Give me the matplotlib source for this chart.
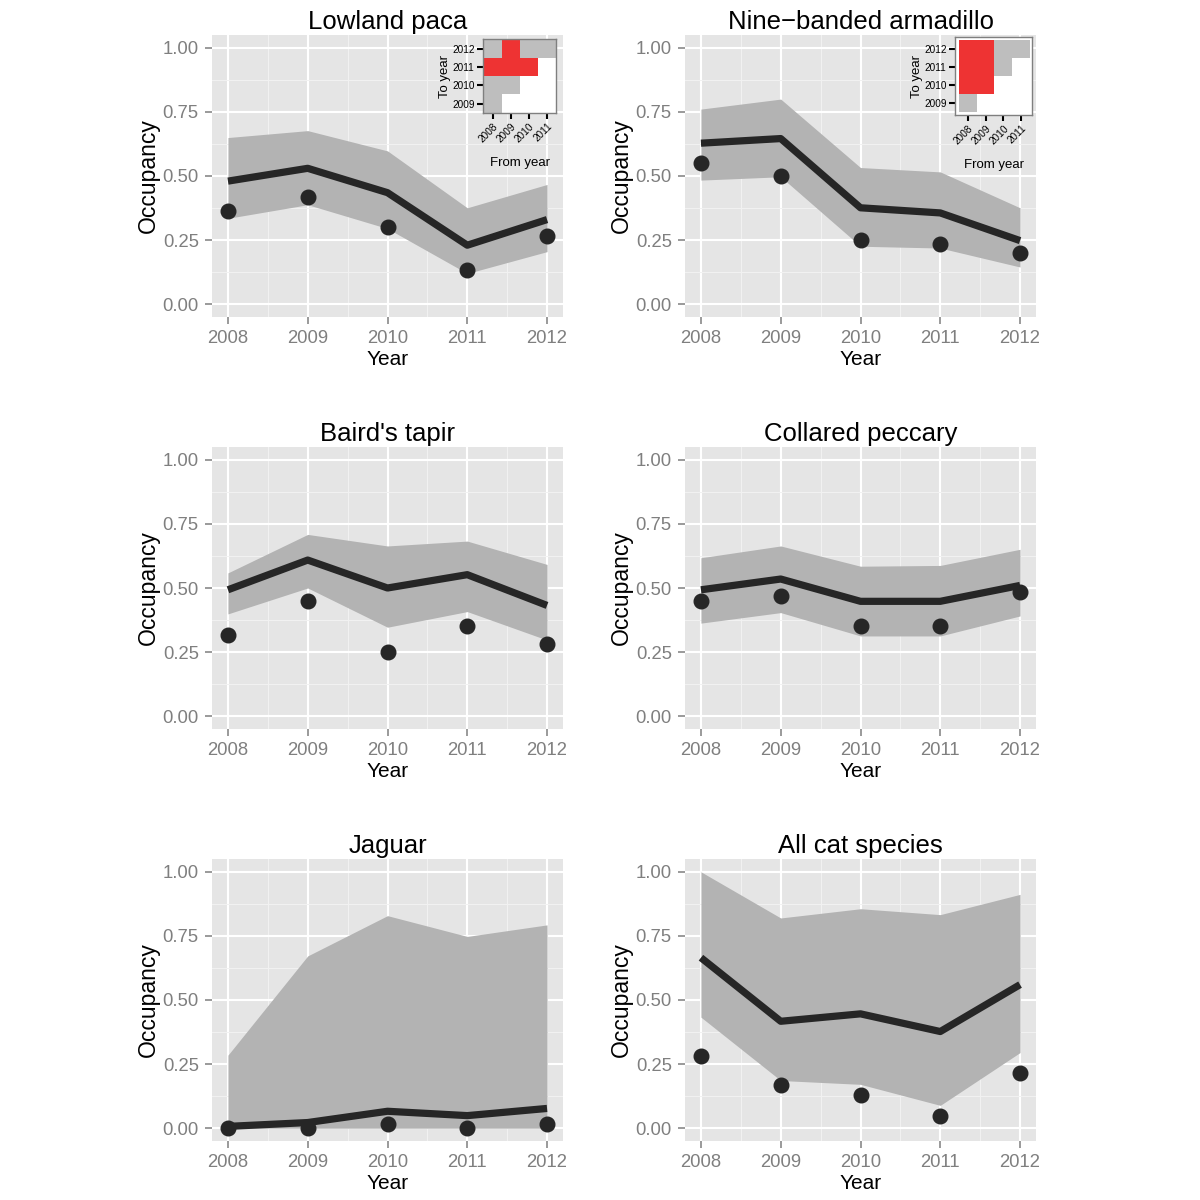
import numpy as np
import matplotlib.pyplot as plt
from matplotlib.colors import ListedColormap

plt.rcParams['font.family'] = ['Liberation Sans', 'DejaVu Sans']

years = [2008, 2009, 2010, 2011, 2012]

titles = ["Lowland paca", "Nine\u2212banded armadillo", "Baird's tapir",
          "Collared peccary", "Jaguar", "All cat species"]

# estimated occupancy (line), credible band and naive occupancy (points)
paca_est = [0.48, 0.53, 0.435, 0.23, 0.33]
paca_lo = [0.335, 0.388, 0.295, 0.12, 0.205]
paca_hi = [0.65, 0.677, 0.598, 0.376, 0.467]
paca_obs = [0.365, 0.417, 0.30, 0.135, 0.267]

arma_est = [0.628, 0.646, 0.376, 0.356, 0.248]
arma_lo = [0.484, 0.497, 0.226, 0.219, 0.145]
arma_hi = [0.761, 0.80, 0.533, 0.516, 0.376]
arma_obs = [0.55, 0.50, 0.25, 0.235, 0.20]

tapir_est = [0.493, 0.609, 0.50, 0.552, 0.432]
tapir_lo = [0.399, 0.50, 0.347, 0.408, 0.297]
tapir_hi = [0.559, 0.709, 0.664, 0.683, 0.592]
tapir_obs = [0.317, 0.45, 0.25, 0.35, 0.283]

pecc_est = [0.493, 0.535, 0.448, 0.448, 0.51]
pecc_lo = [0.363, 0.404, 0.313, 0.313, 0.391]
pecc_hi = [0.618, 0.664, 0.585, 0.588, 0.651]
pecc_obs = [0.448, 0.467, 0.35, 0.35, 0.483]

jag_est = [0.007, 0.022, 0.066, 0.049, 0.077]
jag_lo = [0.0, 0.0, 0.0, 0.0, 0.0]
jag_hi = [0.285, 0.672, 0.829, 0.748, 0.793]
jag_obs = [0.0, 0.0, 0.016, 0.0, 0.016]

cat_est = [0.665, 0.417, 0.446, 0.377, 0.56]
cat_lo = [0.433, 0.186, 0.171, 0.089, 0.295]
cat_hi = [1.0, 0.82, 0.856, 0.833, 0.912]
cat_obs = [0.28, 0.167, 0.131, 0.046, 0.214]

est = [paca_est, arma_est, tapir_est, pecc_est, jag_est, cat_est]
lo = [paca_lo, arma_lo, tapir_lo, pecc_lo, jag_lo, cat_lo]
hi = [paca_hi, arma_hi, tapir_hi, pecc_hi, jag_hi, cat_hi]
obs = [paca_obs, arma_obs, tapir_obs, pecc_obs, jag_obs, cat_obs]

# transition insets: 0 = none, 1 = grey, 2 = red ; rows = to year 2009..2012
from_years = [2008, 2009, 2010, 2011]
to_years = [2009, 2010, 2011, 2012]
paca_trans = [[1, 0, 0, 0],
              [1, 1, 0, 0],
              [2, 2, 2, 0],
              [1, 2, 1, 1]]
arma_trans = [[1, 0, 0, 0],
              [2, 2, 0, 0],
              [2, 2, 1, 0],
              [2, 2, 1, 1]]

W = 1200.0
fig = plt.figure(figsize=(12, 12), dpi=100)

col_left = [212, 685]
row_top = [35, 447, 859]
pw, ph = 351, 282

for i in range(6):
    r, c = divmod(i, 2)
    ax = fig.add_axes([col_left[c] / W, 1 - (row_top[r] + ph) / W, pw / W, ph / W])
    ax.set_facecolor('#E5E5E5')
    ax.fill_between(years, lo[i], hi[i], color='#B3B3B3', lw=0, zorder=2)
    ax.plot(years, est[i], color='#262626', lw=5.2, zorder=3, solid_capstyle='butt')
    ax.plot(years, obs[i], 'o', color='#262626', ms=10.5, zorder=4)
    ax.set_xlim(2007.8, 2012.2)
    ax.set_ylim(-0.05, 1.05)
    ax.set_xticks(years)
    ax.set_yticks([0, 0.25, 0.5, 0.75, 1.0])
    ax.set_yticklabels(['0.00', '0.25', '0.50', '0.75', '1.00'])
    ax.set_xticks([2008.5, 2009.5, 2010.5, 2011.5], minor=True)
    ax.set_yticks([0.125, 0.375, 0.625, 0.875], minor=True)
    ax.grid(which='major', color='white', lw=1.5, zorder=0)
    ax.grid(which='minor', color='#F2F2F2', lw=0.7, zorder=0)
    ax.set_axisbelow(True)
    for s in ax.spines.values():
        s.set_visible(False)
    ax.tick_params(which='major', length=5, width=1.1, color='#7F7F7F',
                   labelcolor='#7F7F7F', labelsize=13.3, pad=4.5)
    ax.tick_params(which='minor', length=0)
    ax.set_xlabel('Year', fontsize=15, labelpad=2)
    ax.set_ylabel('Occupancy', fontsize=16.5, labelpad=2)
    ax.set_title(titles[i], fontsize=18.5, pad=4)

cmap = ListedColormap(['white', '#BEBEBE', '#EE3333'])


def add_inset(box, trans, xl, yl):
    left, top, right, bottom = box
    ia = fig.add_axes([left / W, 1 - bottom / W, (right - left) / W, (bottom - top) / W])
    xe = np.arange(len(from_years) + 1) - 0.5
    ye = np.arange(len(to_years) + 1) - 0.5
    ia.pcolormesh(xe, ye, np.array(trans), cmap=cmap, vmin=0, vmax=2, zorder=1)
    ia.set_xlim(*xl)
    ia.set_ylim(*yl)
    ia.set_xticks(range(len(from_years)))
    ia.set_xticklabels([str(y) for y in from_years], rotation=45, ha='right',
                       rotation_mode='anchor', fontsize=7.2)
    ia.set_yticks(range(len(to_years)))
    ia.set_yticklabels([str(y) for y in to_years], fontsize=7.2)
    ia.tick_params(length=4, width=1.5, color='black', pad=2)
    for s in ia.spines.values():
        s.set_color('#7F7F7F')
        s.set_linewidth(1.0)
    ia.set_xlabel('From year', fontsize=9.5, labelpad=9)
    ia.set_ylabel('To year', fontsize=9.5, labelpad=1)


add_inset((483, 39, 556, 113), paca_trans, (-0.54, 3.48), (-0.52, 3.55))
add_inset((955, 37, 1032, 115), arma_trans, (-0.7, 3.59), (-0.65, 3.66))

fig.savefig('out.png', dpi=100)
